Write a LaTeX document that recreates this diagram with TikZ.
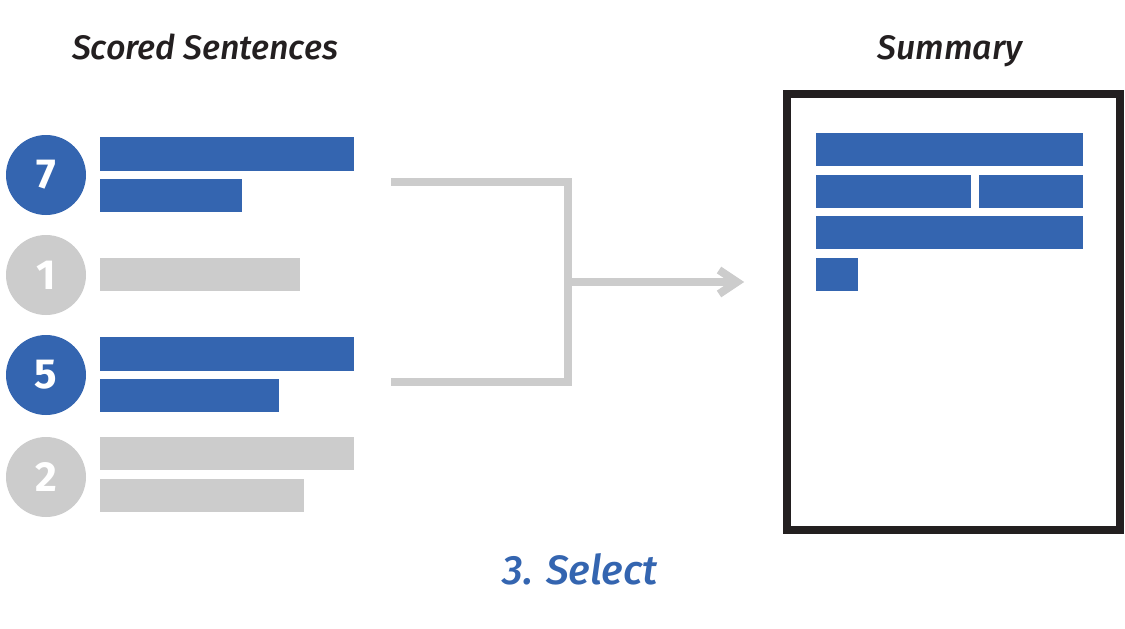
\documentclass[tikz,border=0pt]{standalone}
\usepackage{fontspec}
\setmainfont{Fira Sans}
\newfontfamily\medfont{Fira Sans Medium}[ItalicFont={Fira Sans Medium Italic}]
\definecolor{sblue}{HTML}{3465B0}
\definecolor{sgray}{HTML}{CCCCCC}
\definecolor{sdark}{HTML}{231F20}
\begin{document}
\begin{tikzpicture}[x=1pt,y=-1pt,
  title/.style={font=\fontsize{34}{40}\selectfont\medfont\itshape, text=sdark, inner sep=0pt, anchor=base},
  num/.style={circle, minimum size=80pt, inner sep=0pt, text=white, font=\fontsize{42}{48}\selectfont\bfseries},
  conn/.style={draw=sgray, line width=8pt}
]
\useasboundingbox (0,0) rectangle (1125,629);
\fill[white] (0,0) rectangle (1125,629);

\node[title] (t1) at (205,59) {Scored Sentences};
\node[title] (t2) at (950,59) {Summary};

% circles
\node[num, fill=sblue] (c7) at (46,175) {7};
\node[num, fill=sgray] (c1) at (46,275) {1};
\node[num, fill=sblue] (c5) at (46,375) {5};
\node[num, fill=sgray] (c2) at (46,477) {2};

% bars
\fill[sblue] (100,137) rectangle (354,171);
\fill[sblue] (100,179) rectangle (242,212);
\fill[sgray] (100,258) rectangle (300,291);
\fill[sblue] (100,337) rectangle (354,371);
\fill[sblue] (100,379) rectangle (279,412);
\fill[sgray] (100,437) rectangle (354,470);
\fill[sgray] (100,479) rectangle (304,512);

% bracket
\coordinate (bt) at (391,182);
\coordinate (bb) at (391,382);
\coordinate (bj) at (568,282);
\coordinate (tip) at (737,282);
\draw[conn, line join=miter] (bt) -- (568,182) -- (568,382) -- (bb);
\draw[conn] (bj) -- (733,282);
\draw[conn, line join=miter] (719,270) -- (tip) -- (719,294);

% summary box
\node[draw=sdark, line width=8pt, minimum width=333pt, minimum height=436pt, inner sep=0pt] (sum) at (953.5,312) {};
\fill[sblue] (816,133) rectangle (1083,166);
\fill[sblue] (816,175) rectangle (971,208);
\fill[sblue] (979,175) rectangle (1083,208);
\fill[sblue] (816,216) rectangle (1083,249);
\fill[sblue] (816,258) rectangle (858,291);

\node[font=\fontsize{41}{48}\selectfont\medfont\itshape, text=sblue, inner sep=0pt, anchor=base] (sel) at (580,584) {3. Select};
\end{tikzpicture}
\end{document}
